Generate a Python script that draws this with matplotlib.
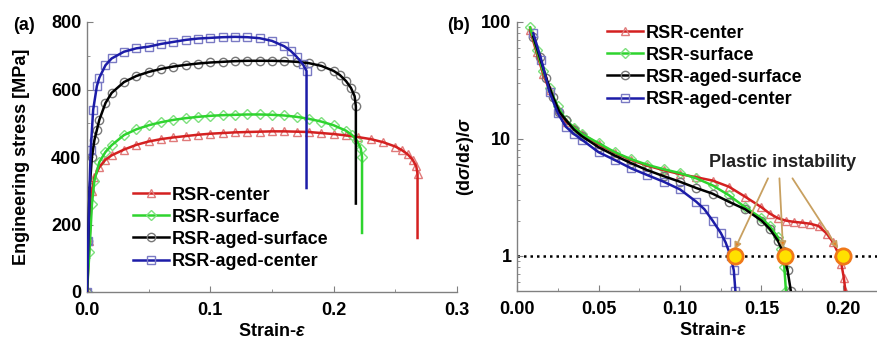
import matplotlib
matplotlib.use("Agg")
import matplotlib.pyplot as plt
from matplotlib.ticker import MultipleLocator, FixedLocator, NullFormatter

plt.rcParams['font.family'] = ['Liberation Sans', 'DejaVu Sans']
plt.rcParams['font.weight'] = 'bold'
plt.rcParams['mathtext.fontset'] = 'custom'
plt.rcParams['mathtext.it'] = 'Liberation Sans:italic:bold'
plt.rcParams['mathtext.rm'] = 'Liberation Sans:bold'
plt.rcParams['mathtext.bf'] = 'Liberation Sans:bold'

labels = ["RSR-center", "RSR-surface", "RSR-aged-surface", "RSR-aged-center"]

# ---- Panel (a): engineering stress-strain ----
a_center_strain = [0, 0.002, 0.004, 0.006, 0.01, 0.015, 0.02, 0.03, 0.04, 0.05, 0.06, 0.07, 0.08,
                   0.09, 0.10, 0.11, 0.12, 0.13, 0.14, 0.15, 0.16, 0.17, 0.18, 0.19, 0.20, 0.21,
                   0.22, 0.23, 0.24, 0.25, 0.255, 0.26, 0.264, 0.267, 0.268, 0.268]
a_center_stress = [0, 150, 300, 340, 370, 392, 405, 422, 436, 446, 453, 458, 462,
                   466, 469, 471, 473, 474, 475, 476, 476, 475, 474, 471, 468, 464,
                   459, 453, 444, 431, 421, 408, 392, 372, 350, 160]

a_surface_strain = [0, 0.002, 0.004, 0.006, 0.01, 0.015, 0.02, 0.03, 0.04, 0.05, 0.06, 0.07, 0.08,
                    0.09, 0.10, 0.11, 0.12, 0.13, 0.14, 0.15, 0.16, 0.17, 0.18, 0.19, 0.20, 0.21,
                    0.215, 0.219, 0.222, 0.223, 0.223]
a_surface_stress = [0, 120, 260, 330, 385, 415, 435, 465, 482, 494, 503, 510, 515,
                    519, 522, 524, 525, 526, 526, 525, 523, 519, 513, 505, 494, 478,
                    465, 448, 425, 400, 175]

a_aged_surface_strain = [0, 0.001, 0.002, 0.004, 0.006, 0.008, 0.01, 0.015, 0.02, 0.03, 0.04, 0.05,
                         0.06, 0.07, 0.08, 0.09, 0.10, 0.11, 0.12, 0.13, 0.14, 0.15, 0.16, 0.17,
                         0.18, 0.19, 0.20, 0.205, 0.21, 0.214, 0.217, 0.218, 0.218]
a_aged_surface_stress = [0, 150, 300, 400, 450, 480, 510, 560, 590, 622, 640, 652,
                         661, 668, 673, 677, 680, 682, 684, 685, 685, 685, 684, 682,
                         678, 670, 655, 643, 625, 605, 580, 550, 262]

a_aged_center_strain = [0, 0.001, 0.002, 0.003, 0.005, 0.008, 0.01, 0.015, 0.02, 0.03, 0.04, 0.05,
                        0.06, 0.07, 0.08, 0.09, 0.10, 0.11, 0.12, 0.13, 0.14, 0.15, 0.16, 0.165,
                        0.17, 0.175, 0.178, 0.178]
a_aged_center_stress = [0, 150, 300, 420, 540, 610, 635, 672, 692, 712, 722, 727,
                        735, 741, 747, 751, 753, 755, 756, 755, 752, 744, 728, 715,
                        697, 675, 655, 308]

# ---- Panel (b): normalized work hardening rate ----
b_center_strain = [0.008, 0.012, 0.016, 0.02, 0.025, 0.03, 0.035, 0.04, 0.05, 0.06, 0.07, 0.08,
                   0.09, 0.10, 0.11, 0.12, 0.13, 0.14, 0.15, 0.155, 0.16, 0.165, 0.17, 0.175,
                   0.18, 0.185, 0.19, 0.194, 0.197, 0.199, 0.2005, 0.2015]
b_center_rate = [85, 55, 36, 26, 18, 14, 12.5, 11, 9, 7.6, 6.6, 5.9,
                 5.4, 5.0, 4.7, 4.4, 3.9, 3.2, 2.6, 2.3, 2.1, 2.0, 1.95, 1.92,
                 1.88, 1.8, 1.55, 1.3, 1.05, 0.85, 0.65, 0.5]

b_surface_strain = [0.008, 0.012, 0.016, 0.02, 0.025, 0.03, 0.035, 0.04, 0.05, 0.06, 0.07, 0.08,
                    0.09, 0.10, 0.11, 0.12, 0.13, 0.14, 0.15, 0.155, 0.16, 0.162, 0.164, 0.165]
b_surface_rate = [90, 58, 38, 27, 19, 14.5, 12.5, 11, 9.2, 7.7, 6.7, 6.0,
                  5.5, 5.1, 4.6, 4.0, 3.3, 2.6, 2.1, 1.8, 1.45, 1.15, 0.8, 0.5]

b_aged_surface_strain = [0.01, 0.014, 0.018, 0.022, 0.026, 0.03, 0.035, 0.04, 0.05, 0.06, 0.07, 0.08,
                         0.09, 0.10, 0.11, 0.12, 0.13, 0.14, 0.15, 0.155, 0.16, 0.163, 0.166, 0.168]
b_aged_surface_rate = [75, 50, 33, 23, 17, 14.5, 12, 10.5, 8.5, 7.2, 6.2, 5.4,
                       4.8, 4.3, 3.8, 3.4, 2.9, 2.5, 2.0, 1.7, 1.35, 1.1, 0.75, 0.5]

b_aged_center_strain = [0.01, 0.015, 0.02, 0.025, 0.03, 0.035, 0.04, 0.05, 0.06, 0.07, 0.08, 0.09,
                        0.10, 0.11, 0.115, 0.12, 0.125, 0.128, 0.131, 0.133, 0.134]
b_aged_center_rate = [80, 47, 25, 16.6, 12.7, 11, 9.8, 7.7, 6.6, 5.6, 4.9, 4.3,
                      3.7, 2.9, 2.5, 2.0, 1.57, 1.3, 1.0, 0.75, 0.5]

instability_strain = [0.1337, 0.1644, 0.2]
instability_rate = [1.0, 1.0, 1.0]

line_colors = ["#d42020", "#2ed42e", "#000000", "#1c1ca8"]
marker_edges = ["#e07a7a", "#7ee07e", "#777777", "#7a7ac4"]
markers = ["^", "D", "o", "s"]
msizes = [6, 5, 6, 6]

fig = plt.figure(figsize=(8.78, 3.43), dpi=100)
ax_a = fig.add_axes([87/878, 51/343, 370/878, 270/343])
ax_b = fig.add_axes([517/878, 52/343, (0.24*1630)/878, 269/343])

gray = "#808080"
for ax in (ax_a, ax_b):
    for s in ("top", "right"):
        ax.spines[s].set_visible(False)
    for s in ("left", "bottom"):
        ax.spines[s].set_color(gray)
        ax.spines[s].set_linewidth(1.0)
    ax.tick_params(which='both', direction='in', color=gray, labelsize=13)
    ax.tick_params(axis='y', pad=4)
    ax.tick_params(axis='x', pad=7)
    ax.tick_params(which='major', length=4)
    ax.tick_params(which='minor', length=2.5)

# Panel (a)
a_sets = [(a_center_strain, a_center_stress), (a_surface_strain, a_surface_stress),
          (a_aged_surface_strain, a_aged_surface_stress), (a_aged_center_strain, a_aged_center_stress)]
for (x, y), lc, me, mk, ms, lab in zip(a_sets, line_colors, marker_edges, markers, msizes, labels):
    ax_a.plot(x, y, linestyle='none', marker=mk, ms=ms, mfc='none', mec=me, mew=1.0,
              markevery=slice(0, len(x) - 1), zorder=2)
    ax_a.plot(x, y, color=lc, lw=1.8, zorder=3)
    ax_a.plot([], [], color=lc, lw=1.8, marker=mk, ms=ms, mfc='none', mec=me, mew=1.0, label=lab)

ax_a.set_xlim(0, 0.3)
ax_a.set_ylim(0, 800)
ax_a.xaxis.set_major_locator(FixedLocator([0.0, 0.1, 0.2, 0.3]))
ax_a.set_xticklabels(["0.0", "0.1", "0.2", "0.3"])
ax_a.xaxis.set_minor_locator(MultipleLocator(0.05))
ax_a.yaxis.set_major_locator(MultipleLocator(200))
ax_a.yaxis.set_minor_locator(MultipleLocator(100))
ax_a.set_xlabel("Strain-$\\varepsilon$", fontsize=13, fontweight='bold', labelpad=3)
ax_a.set_ylabel("Engineering stress [MPa]", fontsize=13, fontweight='bold', labelpad=15)
ax_a.legend(loc='upper left', bbox_to_anchor=(0.125, 0.39), frameon=False, fontsize=13,
            handlelength=2.0, handletextpad=0.15, labelspacing=0.28, borderpad=0, borderaxespad=0)

# Panel (b)
b_sets = [(b_center_strain, b_center_rate), (b_surface_strain, b_surface_rate),
          (b_aged_surface_strain, b_aged_surface_rate), (b_aged_center_strain, b_aged_center_rate)]
ax_b.set_yscale('log')
ax_b.axhline(1.0, color='black', lw=1.8, linestyle=(0, (1, 1.6)), zorder=1)
for (x, y), lc, me, mk, ms, lab in zip(b_sets, line_colors, marker_edges, markers, msizes, labels):
    ax_b.plot(x, y, linestyle='none', marker=mk, ms=ms, mfc='none', mec=me, mew=1.0, zorder=2)
    ax_b.plot(x, y, color=lc, lw=1.8, zorder=3)
    ax_b.plot([], [], color=lc, lw=1.8, marker=mk, ms=ms, mfc='none', mec=me, mew=1.0, label=lab)

ax_b.plot(instability_strain, instability_rate, linestyle='none', marker='o', ms=11,
          mfc='#ffe000', mec='#f07818', mew=2.0, zorder=6)

arrow_starts = [(0.154, 4.6), (0.161, 4.6), (0.169, 4.6)]
arrow_ends = [(0.1335, 1.13), (0.1632, 1.15), (0.197, 1.15)]
for st, en in zip(arrow_starts, arrow_ends):
    ax_b.annotate("", xy=en, xytext=st,
                  arrowprops=dict(arrowstyle='-|>', ec='#c8a060', fc='#f07818', lw=1.3,
                                  mutation_scale=10, shrinkA=0, shrinkB=0), zorder=5)
ax_b.text(0.163, 6.3, "Plastic instability", fontsize=13, fontweight='bold',
          ha='center', va='center', color='#222222')

ax_b.set_xlim(0, 0.24)
ax_b.set_ylim(0.5, 100)
ax_b.xaxis.set_major_locator(FixedLocator([0.0, 0.05, 0.10, 0.15, 0.20]))
ax_b.set_xticklabels(["0.00", "0.05", "0.10", "0.15", "0.20"])
ax_b.xaxis.set_minor_locator(MultipleLocator(0.025))
ax_b.yaxis.set_major_locator(FixedLocator([1, 10, 100]))
ax_b.set_yticklabels(["1", "10", "100"])
ax_b.yaxis.set_minor_formatter(NullFormatter())
ax_b.set_xlabel("Strain-$\\varepsilon$", fontsize=13, fontweight='bold', labelpad=3)
ax_b.set_ylabel("(d$\\sigma$/d$\\varepsilon$)/$\\sigma$", fontsize=13, fontweight='bold', labelpad=4)
ax_b.legend(loc='upper left', bbox_to_anchor=(90/391, 0.99), frameon=False, fontsize=13,
            handlelength=2.0, handletextpad=0.15, labelspacing=0.28, borderpad=0, borderaxespad=0)

fig.text(13/878, 1 - 25/343, "(a)", fontsize=13, fontweight='bold', ha='left', va='center')
fig.text(447/878, 1 - 25/343, "(b)", fontsize=13, fontweight='bold', ha='left', va='center')

fig.savefig("out.png", dpi=100)
